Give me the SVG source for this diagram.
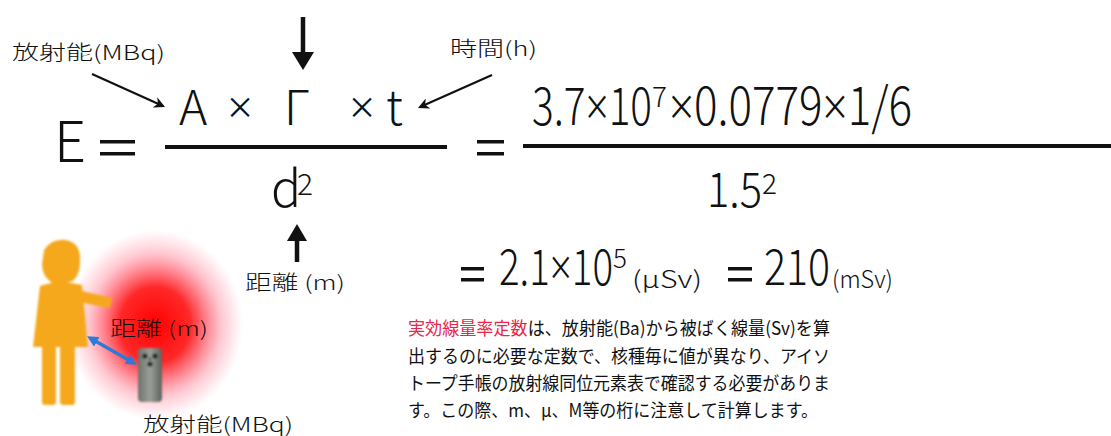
<svg xmlns="http://www.w3.org/2000/svg" width="1111" height="436" viewBox="0 0 1111 436">
  <style>
    text { font-family: "Noto Sans CJK JP", "Noto Sans", sans-serif; fill: #111; }
    .math { font-weight: 300; }
    .x { font-family: "Noto Sans", "DejaVu Sans", sans-serif; font-weight: 300; }
    .lbl { font-size: 20px; font-weight: 300; }
    .para { font-size: 18px; }
    .red { fill: #e8264a; }
    .bar { stroke: #111; stroke-width: 4; }
    .thin { stroke: #111; stroke-width: 2.2; fill: none; }
    .bold { stroke: #111; stroke-width: 4.5; fill: none; }
  </style>
  <defs>
    <marker id="head" viewBox="0 0 10 10" refX="8" refY="5" markerWidth="5" markerHeight="5" orient="auto-start-reverse">
      <path d="M0,0 L10,5 L0,10 L3,5 Z" fill="#111"/>
    </marker>
    <marker id="blueHead" viewBox="0 0 10 10" refX="7" refY="5" markerWidth="3.2" markerHeight="3.2" orient="auto-start-reverse">
      <path d="M0,0 L10,5 L0,10 Z" fill="#2f7ad8"/>
    </marker>
    <radialGradient id="glow" cx="155" cy="325" r="88" gradientUnits="userSpaceOnUse" gradientTransform="translate(155 325) scale(1 1.08) translate(-155 -325)">
      <stop offset="0" stop-color="#ff0000" stop-opacity="1"/>
      <stop offset="0.4" stop-color="#ff1010" stop-opacity="0.9"/>
      <stop offset="0.75" stop-color="#ff4060" stop-opacity="0.3"/>
      <stop offset="1" stop-color="#ff6080" stop-opacity="0"/>
    </radialGradient>
    <linearGradient id="metal" x1="0" y1="0" x2="1" y2="0">
      <stop offset="0" stop-color="#6d726d"/>
      <stop offset="0.5" stop-color="#9a9f99"/>
      <stop offset="1" stop-color="#5c615c"/>
    </linearGradient>
    <filter id="soft" x="-20%" y="-20%" width="140%" height="140%">
      <feGaussianBlur stdDeviation="1.2"/>
    </filter>
  </defs>

  <rect width="1111" height="436" fill="#ffffff"/>

  <!-- Illustration: person, glowing source, distance -->
  <g id="illustration">
    <rect x="50" y="220" width="220" height="200" fill="url(#glow)"/>
    <g id="person" fill="#f6a81c" filter="url(#soft)">
      <path d="M44,250 Q52,238 66,240 Q80,243 80,258 Q81,272 74,280 Q64,286 52,283 Q42,276 42,264 Z"/>
      <path d="M40,286 Q60,279 82,285 L88,347 L33,347 Z"/>
      <path d="M78,290 L112,298 L110,308 L78,302 Z"/>
      <rect x="42" y="340" width="14" height="65" rx="3"/>
      <rect x="60" y="340" width="15" height="65" rx="3"/>
    </g>
    <g id="source" filter="url(#soft)">
      <rect x="138" y="348" width="24" height="54" rx="4" fill="url(#metal)"/>
      <circle cx="145" cy="356" r="2.6" fill="#222"/>
      <circle cx="155" cy="356" r="2.6" fill="#222"/>
      <circle cx="150" cy="364" r="2.6" fill="#222"/>
      <circle cx="150" cy="359" r="1.2" fill="#222"/>
    </g>
    <line x1="90" y1="338" x2="134" y2="363" stroke="#2f7ad8" stroke-width="3.5" marker-start="url(#blueHead)" marker-end="url(#blueHead)"/>
    <text class="lbl" x="110" y="336" textLength="98" lengthAdjust="spacingAndGlyphs">距離 (m)</text>
    <text class="lbl" x="143" y="432" font-size="22" textLength="150" lengthAdjust="spacingAndGlyphs">放射能(MBq)</text>
  </g>

  <!-- Connectors (annotation arrows) -->
  <g id="connectors">
    <line class="thin" x1="92" y1="74" x2="163" y2="106" marker-end="url(#head)"/>
    <line class="thin" x1="492" y1="75" x2="420" y2="107" marker-end="url(#head)"/>
    <line class="bold" x1="303" y1="17" x2="303" y2="56"/>
    <path d="M292,52 L314,52 L303,70 Z" fill="#111"/>
    <line class="bold" x1="297" y1="262" x2="297" y2="238"/>
    <path d="M287,241 L307,241 L297,224 Z" fill="#111"/>
  </g>

  <!-- Annotation labels -->
  <g id="label-activity"><text class="lbl" x="12" y="60" textLength="153" lengthAdjust="spacingAndGlyphs">放射能(MBq)</text></g>
  <g id="label-time"><text class="lbl" x="450" y="56" textLength="87" lengthAdjust="spacingAndGlyphs">時間(h)</text></g>
  <g id="label-distance"><text class="lbl" x="245" y="290" font-size="21" textLength="100" lengthAdjust="spacingAndGlyphs">距離 (m)</text></g>

  <!-- Formula E = A x Gamma x t / d^2 -->
  <g id="formula">
    <text class="math" x="54" y="162" font-size="56">E</text>
    <rect x="100" y="140" width="35" height="3.5" fill="#111"/>
    <rect x="100" y="152" width="35" height="3.5" fill="#111"/>
    <text class="math" x="179" y="125" font-size="48">A</text>
    <text class="x" x="240" y="123" font-size="44" text-anchor="middle">×</text>
    <text class="math" x="284" y="125" font-size="48">Γ</text>
    <text class="x" x="362" y="123" font-size="44" text-anchor="middle">×</text>
    <text class="math" x="386" y="125" font-size="48">t</text>
    <line class="bar" x1="165" y1="147" x2="447" y2="147"/>
    <text class="math" x="271" y="207" font-size="50">d</text>
    <text class="math" x="297" y="195" font-size="30">2</text>
  </g>

  <!-- Substituted values -->
  <g id="substitution">
    <rect x="477" y="140" width="27" height="3.5" fill="#111"/>
    <rect x="477" y="152" width="27" height="3.5" fill="#111"/>
    <text class="math" x="532" y="125" font-size="52" textLength="120" lengthAdjust="spacingAndGlyphs">3.7<tspan class="x">×</tspan>10</text>
    <text class="math" x="652" y="107" font-size="28">7</text>
    <text class="math" x="669" y="125" font-size="52" textLength="243" lengthAdjust="spacingAndGlyphs"><tspan class="x">×</tspan>0.0779<tspan class="x">×</tspan>1/6</text>
    <line class="bar" x1="523" y1="146" x2="1111" y2="146"/>
    <text class="math" x="707" y="207" font-size="48" textLength="55" lengthAdjust="spacingAndGlyphs">1.5</text>
    <text class="math" x="762" y="194" font-size="28">2</text>
  </g>

  <!-- Result -->
  <g id="result">
    <rect x="461" y="267" width="23" height="3.5" fill="#111"/>
    <rect x="461" y="278" width="23" height="3.5" fill="#111"/>
    <text class="math" x="499" y="285" font-size="50" textLength="114" lengthAdjust="spacingAndGlyphs">2.1<tspan class="x">×</tspan>10</text>
    <text class="math" x="613" y="268" font-size="26">5</text>
    <text class="math" x="632" y="288" font-size="24" textLength="70" lengthAdjust="spacingAndGlyphs">(μSv)</text>
    <rect x="728" y="267" width="24" height="3.5" fill="#111"/>
    <rect x="728" y="278" width="24" height="3.5" fill="#111"/>
    <text class="math" x="764" y="285" font-size="50" textLength="66" lengthAdjust="spacingAndGlyphs">210</text>
    <text class="math" x="832" y="288" font-size="24" textLength="61" lengthAdjust="spacingAndGlyphs">(mSv)</text>
  </g>

  <!-- Explanation -->
  <g id="explanation" class="para">
    <text x="408" y="335" textLength="422" lengthAdjust="spacingAndGlyphs"><tspan class="red">実効線量率定数</tspan>は、放射能(Ba)から被ばく線量(Sv)を算</text>
    <text x="408" y="363" textLength="422" lengthAdjust="spacingAndGlyphs">出するのに必要な定数で、核種毎に値が異なり、アイソ</text>
    <text x="408" y="390" textLength="422" lengthAdjust="spacingAndGlyphs">トープ手帳の放射線同位元素表で確認する必要がありま</text>
    <text x="408" y="417" textLength="410" lengthAdjust="spacingAndGlyphs">す。この際、m、μ、M等の桁に注意して計算します。</text>
  </g>
</svg>
